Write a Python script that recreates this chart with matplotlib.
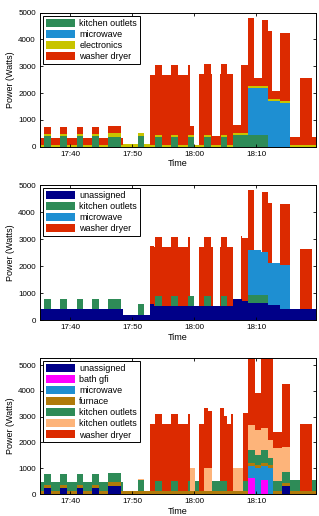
import numpy as np
import matplotlib
matplotlib.use('Agg')
import matplotlib.pyplot as plt

plt.rcParams['font.family'] = ['Liberation Sans', 'DejaVu Sans']

# time in minutes after 17:00, power in watts; each entry is (start, end, watts)
t_start, t_end = 35.1, 79.7
tick_minutes = [40, 50, 60, 70]
tick_labels = ['17:40', '17:50', '18:00', '18:10']

# panel 1
p1_kitchen = [(35.8, 36.8, 400), (38.4, 39.4, 400), (41.0, 42.0, 400), (43.5, 44.6, 400),
              (46.0, 48.1, 380), (50.95, 51.85, 400), (53.7, 54.7, 370), (56.3, 57.4, 370),
              (58.9, 59.9, 370), (61.6, 62.6, 370), (64.25, 65.3, 370), (66.3, 71.9, 420)]
p1_microwave = [(68.7, 71.9, 1770), (71.9, 73.8, 1700), (73.8, 75.4, 1640)]
p1_electronics = [(35.1, 46.0, 80), (46.0, 48.1, 130), (48.1, 48.5, 80),
                  (48.5, 52.84, 110), (52.84, 79.7, 80)]
p1_washer = [(35.1, 48.5, 255), (52.84, 59.3, 2600), (59.3, 60.0, 320), (60.7, 62.8, 2620),
             (62.8, 64.1, 320), (64.1, 66.3, 2620), (66.3, 67.5, 310), (67.5, 68.7, 2550),
             (68.7, 69.6, 2530), (69.6, 70.9, 290), (70.9, 71.9, 2475), (71.9, 72.55, 2530),
             (72.55, 73.85, 280), (73.85, 75.4, 2530), (75.4, 77.0, 295), (77.0, 78.9, 2480),
             (78.9, 79.7, 295)]

# panel 2
p2_unassigned = [(35.1, 48.5, 420), (48.5, 52.84, 200), (52.84, 53.5, 580), (53.5, 66.3, 530),
                 (66.3, 67.6, 770), (67.6, 68.7, 690), (68.7, 71.9, 620), (71.9, 73.8, 540),
                 (73.8, 79.7, 410)]
p2_kitchen = [(35.8, 36.8, 350), (38.4, 39.4, 350), (41.0, 42.0, 350), (43.5, 44.6, 350),
              (46.0, 48.1, 350), (50.95, 51.85, 380), (53.7, 54.7, 370), (56.3, 57.4, 370),
              (58.9, 59.9, 370), (61.6, 62.6, 370), (64.25, 65.3, 370), (68.7, 71.9, 320)]
p2_microwave = [(68.7, 70.8, 1640), (70.8, 71.9, 1575), (71.9, 73.8, 1580), (73.8, 75.4, 1610)]
p2_washer = [(52.84, 59.3, 2160), (60.7, 63.05, 2170), (64.1, 66.3, 2170), (67.5, 68.7, 2360),
             (68.7, 69.6, 2230), (70.9, 71.9, 2235), (71.9, 72.55, 2220), (73.85, 75.4, 2270),
             (77.0, 78.9, 2230)]

# panel 3
p3_unassigned = [(35.8, 36.8, 230), (38.4, 39.4, 230), (41.0, 42.0, 230), (43.5, 44.6, 230),
                 (46.0, 48.1, 300), (74.1, 75.4, 330)]
p3_bath = [(68.7, 69.7, 620), (70.75, 71.9, 560)]
p3_microwave = [(68.7, 69.7, 470), (69.7, 70.75, 1000), (70.75, 71.9, 520), (71.9, 72.6, 1000)]
p3_furnace = [(35.1, 46.0, 110), (46.0, 48.1, 150), (48.1, 79.7, 110)]
p3_kitchen_a = [(35.1, 35.8, 340), (35.8, 36.8, 430), (36.8, 38.4, 340), (38.4, 39.4, 430),
                (39.4, 41.0, 340), (41.0, 42.0, 430), (42.0, 43.5, 340), (43.5, 44.6, 430),
                (44.6, 46.0, 340), (46.0, 48.1, 350), (48.1, 48.5, 340), (50.95, 51.85, 430),
                (53.7, 54.7, 400), (56.3, 57.4, 400), (58.9, 59.3, 400), (60.1, 60.7, 400),
                (62.8, 64.1, 400), (64.1, 65.2, 400), (67.9, 68.7, 400), (68.7, 69.7, 500),
                (69.7, 70.75, 400), (70.75, 71.9, 500), (71.9, 72.6, 300), (72.6, 75.4, 400),
                (75.4, 77.0, 430), (78.9, 79.7, 430)]
p3_kitchen_b = [(50.95, 51.85, 60), (59.3, 60.1, 900), (61.6, 62.8, 900), (66.3, 67.9, 900),
                (68.7, 69.7, 970), (69.7, 70.75, 970), (70.75, 71.9, 850), (71.9, 72.6, 680),
                (72.6, 74.1, 1260), (74.1, 75.4, 970)]
p3_washer = [(52.84, 59.3, 2590), (60.7, 61.6, 2590), (61.6, 62.2, 2340), (62.2, 62.8, 2190),
             (64.1, 64.7, 2820), (64.7, 65.2, 2520), (65.2, 65.9, 2590), (65.9, 66.3, 2990),
             (67.9, 68.7, 2620), (68.7, 69.7, 2610), (69.7, 70.75, 1420), (70.75, 71.9, 2740),
             (71.9, 72.6, 3190), (72.6, 74.1, 630), (74.1, 75.4, 2470), (77.0, 78.9, 2590)]

c_kitchen = '#2e8b57'
c_micro = '#1e8fd2'
c_elec = '#c8c400'
c_washer = '#dc2a00'
c_unassigned = '#000088'
c_bath = '#ff00ff'
c_furnace = '#b07a0a'
c_kitchen2 = '#fdb47a'


def build(segs, grid):
    v = np.zeros(len(grid))
    for t0, t1, w in segs:
        v[(grid >= t0 - 1e-9) & (grid < t1 - 1e-9)] += w
    return v


def panel(ax, series, labels, colors, ymax):
    edges = {t_start, t_end}
    for segs in series:
        for s in segs:
            edges.update(s[:2])
    grid = np.array(sorted(edges))
    ys = [build(s, grid) for s in series]
    ax.stackplot(grid, ys, labels=labels, colors=colors, step='post', linewidth=0)
    ax.set_xlim(t_start, 79.6)
    ax.set_ylim(0, ymax)
    ax.set_xticks(tick_minutes)
    ax.set_xticklabels(tick_labels)
    ax.set_yticks(range(0, 5001, 1000))
    ax.tick_params(direction='in', top=True, right=True, length=2.5, width=0.6,
                   labelsize=5.8, pad=3)
    for sp in ax.spines.values():
        sp.set_linewidth(0.7)
    ax.set_xlabel('Time', fontsize=6.5, labelpad=1)
    ax.set_ylabel('Power (Watts)', fontsize=6.5, labelpad=2)
    leg = ax.legend(loc='upper left', fontsize=6.5, handlelength=3.2, handleheight=1.0,
                    labelspacing=0.22, borderpad=0.3, borderaxespad=0.35,
                    handletextpad=0.5, fancybox=False, framealpha=1)
    leg.get_frame().set_edgecolor('black')
    leg.get_frame().set_linewidth(0.7)


fig = plt.figure(figsize=(3.19, 5.16), dpi=100)
ax1 = fig.add_axes([0.1254, 0.7157, 0.865, 0.2597])
ax2 = fig.add_axes([0.1254, 0.3798, 0.865, 0.2616])
ax3 = fig.add_axes([0.1254, 0.0426, 0.865, 0.2640])

panel(ax1, [p1_kitchen, p1_microwave, p1_electronics, p1_washer],
      ['kitchen outlets', 'microwave', 'electronics', 'washer dryer'],
      [c_kitchen, c_micro, c_elec, c_washer], 5000)
panel(ax2, [p2_unassigned, p2_kitchen, p2_microwave, p2_washer],
      ['unassigned', 'kitchen outlets', 'microwave', 'washer dryer'],
      [c_unassigned, c_kitchen, c_micro, c_washer], 5000)
panel(ax3, [p3_unassigned, p3_bath, p3_microwave, p3_furnace, p3_kitchen_a, p3_kitchen_b, p3_washer],
      ['unassigned', 'bath gfi', 'microwave', 'furnace', 'kitchen outlets', 'kitchen outlets',
       'washer dryer'],
      [c_unassigned, c_bath, c_micro, c_furnace, c_kitchen, c_kitchen2, c_washer], 5280)

fig.savefig('out.png', dpi=100)
